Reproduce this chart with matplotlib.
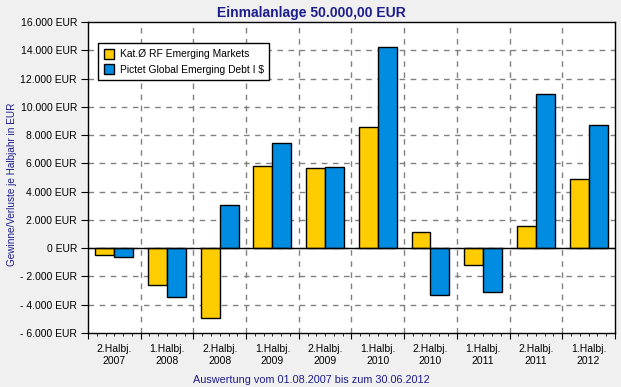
import matplotlib
matplotlib.use("Agg")
import matplotlib.pyplot as plt
import numpy as np
from matplotlib.ticker import FixedLocator, FuncFormatter, NullFormatter

plt.rcParams['font.family'] = ['Liberation Sans', 'DejaVu Sans']

categories = ["2.Halbj.\n2007", "1.Halbj.\n2008", "2.Halbj.\n2008", "1.Halbj.\n2009", "2.Halbj.\n2009",
              "1.Halbj.\n2010", "2.Halbj.\n2010", "1.Halbj.\n2011", "2.Halbj.\n2011", "1.Halbj.\n2012"]
series_names = ["Kat.Ø RF Emerging Markets", "Pictet Global Emerging Debt I $"]
kat_values = [-500, -2600, -4950, 5800, 5700, 8560, 1150, -1200, 1550, 4880]
pictet_values = [-650, -3470, 3040, 7430, 5750, 14220, -3330, -3110, 10890, 8700]
yticks = list(range(-6000, 16001, 2000))
ytick_labels = [("- " if v < 0 else "") + f"{abs(v):,}".replace(",", ".") + " EUR" for v in yticks]

navy = "#1c1c8c"
fig = plt.figure(figsize=(6.21, 3.87), dpi=100, facecolor="#f0f0f0")
ax = fig.add_axes([0.1417, 0.1395, 0.8485, 0.8035])
ax.set_facecolor("white")

n = len(categories)
x = np.arange(n)
w = 0.36
ax.bar(x - w/2, kat_values, w, color="#ffcc00", edgecolor="black", linewidth=1.0, label=series_names[0], zorder=3)
ax.bar(x + w/2, pictet_values, w, color="#008ce0", edgecolor="black", linewidth=1.0, label=series_names[1], zorder=3)
ax.axhline(0, color="black", linewidth=1.0, zorder=4)

ax.set_xlim(-0.5, n - 0.5)
ax.set_ylim(-6000, 16000)
ax.set_yticks(yticks)
ax.set_yticklabels(ytick_labels, fontsize=7.5)
ax.tick_params(axis='y', length=5, direction='out', pad=3)

# major ticks at category boundaries (no labels), minor ticks every 1/6 with labels at centers
boundaries = np.arange(-0.5, n, 1.0)
ax.xaxis.set_major_locator(FixedLocator(boundaries))
ax.xaxis.set_major_formatter(NullFormatter())
minor_pos = [b + k / 6 for b in boundaries[:-1] for k in range(1, 6)]
ax.xaxis.set_minor_locator(FixedLocator(minor_pos))

def fmt(v, pos):
    r = round(v)
    if abs(v - r) < 1e-6 and 0 <= r < n:
        return categories[r]
    return ""

ax.xaxis.set_minor_formatter(FuncFormatter(fmt))
ax.tick_params(axis='x', which='major', length=4, direction='out')
ax.tick_params(axis='x', which='minor', length=2, direction='out', pad=6, labelsize=7.5)

for b in boundaries[1:-1]:
    ax.axvline(b, color="#808080", linestyle=(0, (4, 4)), linewidth=1.0, zorder=1)
for v in yticks[1:-1]:
    ax.axhline(v, color="#808080", linestyle=(0, (4, 4)), linewidth=1.0, zorder=1)

for s in ax.spines.values():
    s.set_color("black")
    s.set_linewidth(1.0)

fig.text(0.502, 0.967, "Einmalanlage 50.000,00 EUR", fontsize=10, fontweight="bold", color=navy,
         ha="center", va="center")
fig.text(0.020, 0.525, "Gewinne/Verluste je Halbjahr in EUR", fontsize=7.2, color=navy,
         rotation=90, ha="center", va="center")
fig.text(0.501, 0.018, "Auswertung vom 01.08.2007 bis zum 30.06.2012", fontsize=7.8, color=navy,
         ha="center", va="center")

leg = ax.legend(loc="upper left", bbox_to_anchor=(0.019, 0.933), fontsize=7.4, frameon=True, fancybox=False,
                edgecolor="black", framealpha=1, handlelength=1.05, handleheight=1.2, borderpad=0.55,
                labelspacing=0.45, handletextpad=0.5, borderaxespad=0)
leg.get_frame().set_linewidth(1.0)
leg.set_zorder(5)

fig.savefig("out.png", dpi=100, facecolor=fig.get_facecolor())
